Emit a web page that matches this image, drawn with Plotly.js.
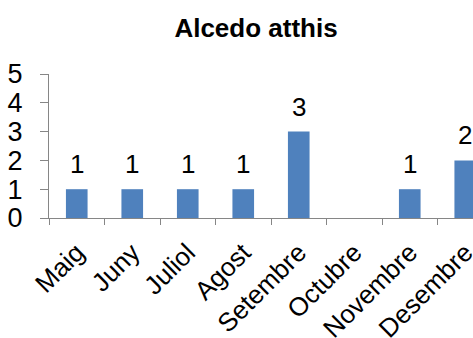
<!DOCTYPE html>
<html>
<head>
<meta charset="utf-8">
<script src="https://cdn.plot.ly/plotly-3.0.1.min.js"></script>
<style>
html, body { margin: 0; padding: 0; overflow: hidden; background: #fff; }
#chart { width: 500px; height: 338px; }
</style>
</head>
<body>
<div id="chart"></div>
<script>
const titleText = "Alcedo atthis";
const months = ["Maig", "Juny", "Juliol", "Agost", "Setembre", "Octubre", "Novembre", "Desembre"];
const counts = [1, 1, 1, 1, 3, null, 1, 2];
const yTicks = [0, 1, 2, 3, 4, 5];

const fontFam = "Liberation Sans, Arial, sans-serif";

const annotations = months.map((m, i) => counts[i] == null ? null : ({
  x: m, y: counts[i], xref: 'x', yref: 'y',
  text: String(counts[i]), showarrow: false,
  yanchor: 'bottom', yshift: 8,
  font: { family: fontFam, size: 26, color: '#000' }
})).filter(a => a);

const trace = {
  type: 'bar',
  x: months,
  y: counts,
  marker: { color: '#4F81BD' },
  hoverinfo: 'none'
};

const layout = {
  width: 500, height: 338,
  margin: { l: 49, r: 7, t: 74, b: 120 },
  paper_bgcolor: '#fff', plot_bgcolor: '#fff',
  bargap: 0.61,
  showlegend: false,
  title: {
    text: '<b>' + titleText + '</b>',
    x: 256 / 500, xref: 'container', xanchor: 'center',
    y: 1 - 28 / 338, yref: 'container', yanchor: 'middle',
    font: { family: fontFam, size: 26, color: '#000' }
  },
  xaxis: {
    type: 'category',
    showline: true, linecolor: '#868686', linewidth: 1,
    ticks: 'outside', ticklen: 6, tickcolor: '#868686', tickson: 'boundaries',
    tickangle: -45,
    showgrid: false, zeroline: false,
    ticklabelstandoff: 8,
    tickfont: { family: fontFam, size: 26, color: '#000' }
  },
  yaxis: {
    range: [0, 5],
    tickvals: yTicks,
    showline: true, linecolor: '#868686', linewidth: 1,
    ticks: 'outside', ticklen: 8, tickcolor: '#868686',
    showgrid: false, zeroline: false,
    ticklabelstandoff: 12,
    tickfont: { family: fontFam, size: 27, color: '#000' }
  },
  annotations: annotations
};

Plotly.newPlot('chart', [trace], layout, { displayModeBar: false, staticPlot: true });
</script>
</body>
</html>
